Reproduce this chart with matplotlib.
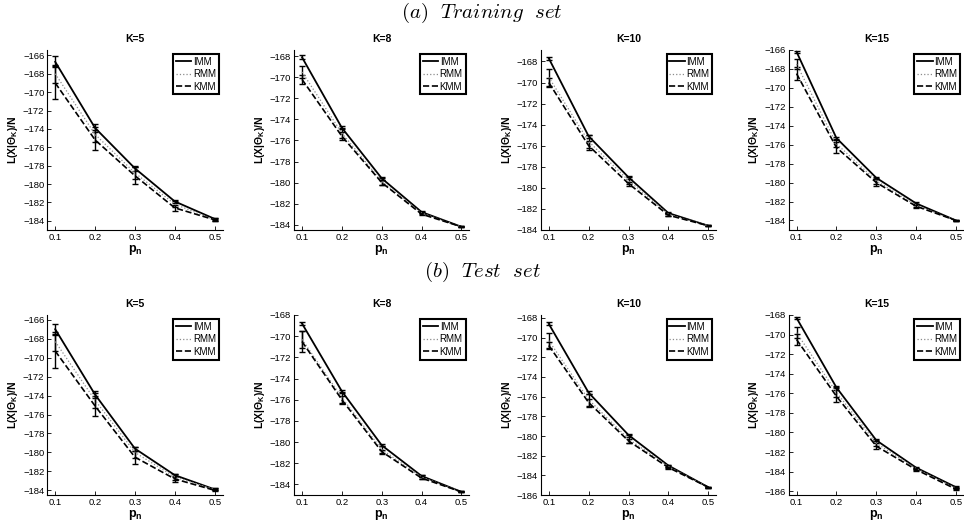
import numpy as np
import matplotlib
matplotlib.use('Agg')
import matplotlib.pyplot as plt

plt.rcParams['font.family'] = ['Liberation Sans', 'DejaVu Sans']
plt.rcParams['mathtext.fontset'] = 'custom'
plt.rcParams['mathtext.rm'] = 'Liberation Sans'
plt.rcParams['mathtext.it'] = 'Liberation Sans:italic'
plt.rcParams['mathtext.bf'] = 'Liberation Sans:bold'

p_n = [0.1, 0.2, 0.3, 0.4, 0.5]
k_values = [5, 8, 10, 15]
methods = ['IMM', 'RMM', 'KMM']

# (a) training set, one list per K
train_imm = [
    [-166.7, -173.9, -178.3, -181.9, -183.8],
    [-168.1, -174.8, -179.6, -182.8, -184.2],
    [-167.7, -175.1, -179.0, -182.4, -183.6],
    [-166.2, -175.3, -179.5, -182.2, -184.0],
]
train_rmm = [
    [-168.0, -174.6, -178.8, -182.2, -183.9],
    [-169.5, -175.3, -179.9, -182.9, -184.2],
    [-169.5, -175.6, -179.3, -182.5, -183.6],
    [-167.5, -175.9, -179.8, -182.4, -184.0],
]
train_kmm = [
    [-169.0, -175.2, -179.1, -182.6, -183.9],
    [-170.2, -175.6, -180.0, -183.0, -184.2],
    [-170.0, -176.0, -179.6, -182.6, -183.6],
    [-168.5, -176.3, -180.0, -182.5, -184.0],
]
train_imm_err = [
    [0.6, 0.4, 0.25, 0.2, 0.1],
    [0.2, 0.15, 0.15, 0.1, 0.05],
    [0.15, 0.15, 0.15, 0.1, 0.05],
    [0.1, 0.1, 0.1, 0.1, 0.05],
]
train_rmm_err = [
    [1.0, 0.8, 0.6, 0.3, 0.1],
    [0.6, 0.5, 0.3, 0.1, 0.05],
    [0.8, 0.6, 0.3, 0.15, 0.05],
    [0.5, 0.4, 0.3, 0.15, 0.05],
]
train_kmm_err = [
    [1.8, 1.1, 0.9, 0.35, 0.15],
    [0.4, 0.4, 0.2, 0.1, 0.05],
    [0.4, 0.4, 0.2, 0.1, 0.05],
    [0.7, 0.6, 0.4, 0.15, 0.05],
]
train_ylim = [(-185.0, -165.4), (-184.5, -167.4), (-184.0, -166.9), (-185.0, -166.0)]
train_yticks = [(-184, -166), (-184, -168), (-184, -168), (-184, -166)]

# (b) test set
test_imm = [
    [-167.0, -173.9, -179.6, -182.4, -183.9],
    [-168.8, -175.2, -180.3, -183.2, -184.7],
    [-168.6, -175.6, -179.9, -183.0, -185.2],
    [-168.3, -175.4, -180.8, -183.6, -185.6],
]
test_rmm = [
    [-168.3, -174.5, -180.0, -182.6, -183.9],
    [-170.3, -175.8, -180.7, -183.3, -184.7],
    [-170.3, -176.3, -180.3, -183.1, -185.2],
    [-169.8, -175.9, -181.1, -183.7, -185.7],
]
test_kmm = [
    [-169.3, -175.1, -180.5, -182.8, -184.0],
    [-170.5, -176.0, -180.9, -183.4, -184.7],
    [-170.8, -176.6, -180.5, -183.2, -185.2],
    [-170.5, -176.3, -181.4, -183.8, -185.8],
]
test_imm_err = [
    [0.6, 0.4, 0.2, 0.15, 0.1],
    [0.15, 0.15, 0.1, 0.1, 0.05],
    [0.15, 0.15, 0.15, 0.1, 0.05],
    [0.1, 0.1, 0.1, 0.1, 0.1],
]
test_rmm_err = [
    [1.0, 0.8, 0.6, 0.3, 0.1],
    [0.8, 0.5, 0.3, 0.15, 0.05],
    [0.8, 0.6, 0.4, 0.15, 0.05],
    [0.6, 0.5, 0.3, 0.1, 0.1],
]
test_kmm_err = [
    [1.8, 1.1, 0.7, 0.35, 0.1],
    [1.0, 0.4, 0.2, 0.1, 0.05],
    [0.4, 0.4, 0.2, 0.1, 0.05],
    [0.6, 0.6, 0.3, 0.1, 0.1],
]
test_ylim = [(-184.5, -165.5), (-185.0, -168.0), (-186.0, -167.7), (-186.4, -168.0)]
test_yticks = [(-184, -166), (-184, -168), (-186, -168), (-186, -168)]

styles = {
    'IMM': dict(color='black', linestyle='-', linewidth=1.3),
    'RMM': dict(color='#8c8c8c', linestyle=':', linewidth=0.9),
    'KMM': dict(color='black', linestyle='--', linewidth=1.2),
}


def plot_panel(ax, k, series, errors, ylim, yticks):
    for name, values, err in zip(methods, series, errors):
        ax.errorbar(p_n, values, yerr=err, ecolor='black', elinewidth=1.0,
                    capsize=2, capthick=1.0, label=name, **styles[name])
    ax.set_xlim(0.08, 0.52)
    ax.set_ylim(*ylim)
    ax.set_xticks(p_n)
    ax.set_xticklabels(['0.1', '0.2', '0.3', '0.4', '0.5'])
    ax.set_yticks(np.arange(yticks[0], yticks[1] + 1, 2))
    ax.tick_params(direction='in', labelsize=6.8, length=3, width=0.6, pad=2)
    for side in ['top', 'right']:
        ax.spines[side].set_visible(False)
    for side in ['left', 'bottom']:
        ax.spines[side].set_linewidth(0.8)
    ax.set_title(f'K={k}', fontsize=7.5, fontweight='bold', pad=6)
    ax.set_xlabel(r'$\mathbf{p}_\mathbf{n}$', fontsize=9, labelpad=1)
    ax.set_ylabel(r'L(X|$\mathbf{\Theta}_\mathbf{K}$)/N', fontsize=7.5, fontweight='bold', labelpad=2)
    handles, labels = ax.get_legend_handles_labels()
    handles = [h[0] for h in handles]
    leg = ax.legend(handles, labels, loc='upper right', fontsize=7, fancybox=False,
                    edgecolor='black', framealpha=1, handlelength=1.6,
                    handletextpad=0.15, borderpad=0.3, labelspacing=0.25,
                    borderaxespad=0.4)
    leg.get_frame().set_linewidth(1.5)


fig = plt.figure(figsize=(9.64, 5.25), dpi=100)
lefts = [0.049, 0.305, 0.561, 0.818]
width = 0.182
height = 0.343

fig.text(0.5, 0.975, r'$(a)\ \ Training\ \ set$', ha='center', va='center',
         fontsize=15, math_fontfamily='cm')
fig.text(0.5, 0.482, r'$(b)\ \ Test\ \ set$', ha='center', va='center',
         fontsize=15, math_fontfamily='cm')

for i, k in enumerate(k_values):
    ax = fig.add_axes([lefts[i], 0.562, width, height])
    plot_panel(ax, k,
               [train_imm[i], train_rmm[i], train_kmm[i]],
               [train_imm_err[i], train_rmm_err[i], train_kmm_err[i]],
               train_ylim[i], train_yticks[i])

    ax = fig.add_axes([lefts[i], 0.057, width, height])
    plot_panel(ax, k,
               [test_imm[i], test_rmm[i], test_kmm[i]],
               [test_imm_err[i], test_rmm_err[i], test_kmm_err[i]],
               test_ylim[i], test_yticks[i])

fig.savefig('out.png', dpi=100)
